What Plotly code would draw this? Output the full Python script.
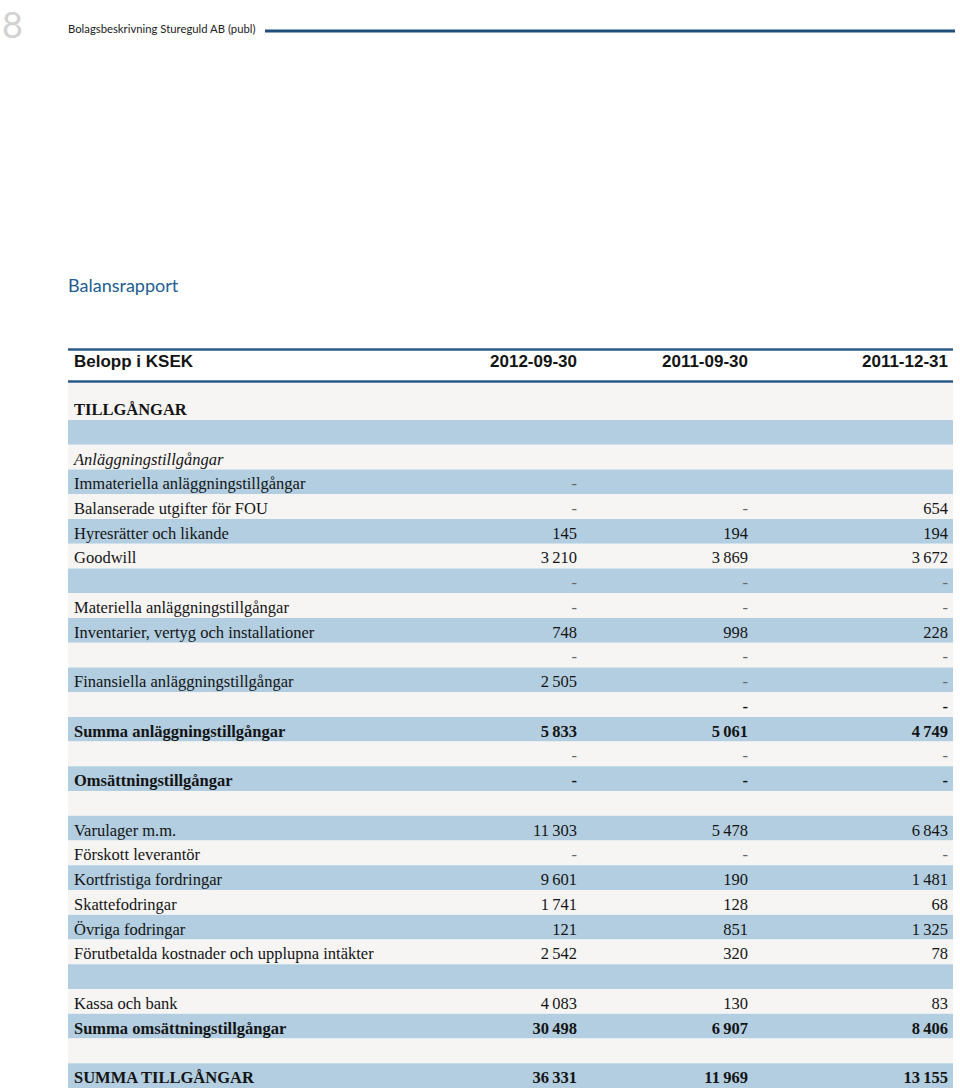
"""
Balansrapport - Stureguld AB, table recreated with Plotly bars + text.
"""
import plotly.graph_objects as go

W, H = 960, 1091

# Colour palette
BLUE_ROW = "#b2cee0"
LIGHT_ROW = "#f6f5f4"
RULE = "#2b5b88"
TITLE_BLUE = "#235d8f"
INK = "#141414"
DASH_INK = "#666666"

SERIF = "Liberation Serif, Times New Roman, serif"
SANS = "Liberation Sans, Arial, sans-serif"

header_labels = ["Belopp i KSEK", "2012-09-30", "2011-09-30", "2011-12-31"]

row_labels = [
    "TILLGÅNGAR",
    "",
    "Anläggningstillgångar",
    "Immateriella anläggningstillgångar",
    "Balanserade utgifter för FOU",
    "Hyresrätter och likande",
    "Goodwill",
    "",
    "Materiella anläggningstillgångar",
    "Inventarier, vertyg och installationer",
    "",
    "Finansiella anläggningstillgångar",
    "",
    "Summa anläggningstillgångar",
    "",
    "Omsättningstillgångar",
    "",
    "Varulager m.m.",
    "Förskott leverantör",
    "Kortfristiga fordringar",
    "Skattefodringar",
    "Övriga fodringar",
    "Förutbetalda kostnader och upplupna intäkter",
    "",
    "Kassa och bank",
    "Summa omsättningstillgångar",
    "",
    "SUMMA TILLGÅNGAR",
]

# None = empty cell, 0 = shown as "-"
val_2012_09 = [None, None, None, 0, 0, 145, 3210, 0, 0, 748, 0, 2505, None, 5833,
               0, 0, None, 11303, 0, 9601, 1741, 121, 2542, None, 4083, 30498, None, 36331]
val_2011_09 = [None, None, None, None, 0, 194, 3869, 0, 0, 998, 0, 0, 0, 5061,
               0, 0, None, 5478, 0, 190, 128, 851, 320, None, 130, 6907, None, 11969]
val_2011_12 = [None, None, None, None, 654, 194, 3672, 0, 0, 228, 0, 0, 0, 4749,
               0, 0, None, 6843, 0, 1481, 68, 1325, 78, None, 83, 8406, None, 13155]

bold_rows = {0, 12, 13, 15, 25, 27}
italic_rows = {2}

# geometry (pixels, y grows downwards)
TABLE_X0, TABLE_X1 = 68, 953
LABEL_X = 74
COL_RIGHT = [577, 748, 948]
HEADER_TOP, HEADER_BOTTOM = 349.5, 381.5
BODY_TOP = 382
FIRST_ROW_H = 38
ROW_H = 24.74


def fmt_num(v):
    if v is None:
        return ""
    if v == 0:
        return "-"
    return f"{v:,}".replace(",", "\u2009")


def styled(text, i):
    if not text:
        return ""
    if i in bold_rows:
        return f"<b>{text}</b>"
    if i in italic_rows:
        return f"<i>{text}</i>"
    return text


n = len(row_labels)
heights = [FIRST_ROW_H] + [ROW_H] * (n - 1)
bottoms = []
acc = BODY_TOP
for h in heights:
    acc += h
    bottoms.append(acc)
centers = [b - h / 2 for b, h in zip(bottoms, heights)]
text_y = [b - ROW_H / 2 + 3.3 for b in bottoms]
fills = [BLUE_ROW if i % 2 else LIGHT_ROW for i in range(n)]

fig = go.Figure()

# row bands
fig.add_trace(go.Bar(
    y=centers,
    x=[TABLE_X1 - TABLE_X0] * n,
    base=TABLE_X0,
    width=heights,
    orientation="h",
    marker=dict(color=fills, line_width=0),
    hoverinfo="skip",
    showlegend=False,
))

# row labels
fig.add_trace(go.Scatter(
    x=[LABEL_X] * n,
    y=text_y,
    mode="text",
    text=[styled(t, i) for i, t in enumerate(row_labels)],
    textposition="middle right",
    textfont=dict(family=SERIF, size=16.5, color=INK),
    hoverinfo="skip",
    showlegend=False,
))

# value columns
for col_x, col in zip(COL_RIGHT, (val_2012_09, val_2011_09, val_2011_12)):
    txt = [fmt_num(v) for v in col]
    fig.add_trace(go.Scatter(
        x=[col_x] * n,
        y=text_y,
        mode="text",
        text=[styled(t, i) for i, t in enumerate(txt)],
        textposition="middle left",
        textfont=dict(
            family=SERIF, size=16.5,
            color=[DASH_INK if t == "-" and i not in bold_rows else INK
                   for i, t in enumerate(txt)],
        ),
        hoverinfo="skip",
        showlegend=False,
    ))

# column header
fig.add_trace(go.Scatter(
    x=[LABEL_X] + COL_RIGHT,
    y=[363] * 4,
    mode="text",
    text=[f"<b>{h}</b>" for h in header_labels],
    textposition=["middle right", "middle left", "middle left", "middle left"],
    textfont=dict(family=SANS, size=17, color=INK),
    hoverinfo="skip",
    showlegend=False,
))

for y in (HEADER_TOP, HEADER_BOTTOM):
    fig.add_shape(type="line", xref="x", yref="y",
                  x0=TABLE_X0, x1=TABLE_X1, y0=y, y1=y,
                  line=dict(color=RULE, width=2.5))

# running page header
fig.add_shape(type="line", xref="x", yref="y",
              x0=265, x1=955, y0=31, y1=31,
              line=dict(color="#1f4e7a", width=3))
fig.add_annotation(text="8", xref="x", yref="y", x=0, y=24,
                   xanchor="left", yanchor="middle", showarrow=False,
                   font=dict(family="Lato", size=36, color="#d2d2d2"))
fig.add_annotation(text="Bolagsbeskrivning Stureguld AB (publ)", xref="x", yref="y",
                   x=66, y=28, xanchor="left", yanchor="middle", showarrow=False,
                   font=dict(family="Lato", size=11.3, color="#222222"))
fig.add_annotation(text="Balansrapport", xref="x", yref="y",
                   x=66, y=285, xanchor="left", yanchor="middle", showarrow=False,
                   font=dict(family="Lato", size=18, color=TITLE_BLUE))

fig.update_layout(
    width=W, height=H,
    margin=dict(l=0, r=0, t=0, b=0),
    paper_bgcolor="white",
    plot_bgcolor="white",
    hovermode=False,
    xaxis=dict(range=[0, W], visible=False, fixedrange=True),
    yaxis=dict(range=[H, 0], visible=False, fixedrange=True),
)
fig.write_html("out.html", config={"displayModeBar": False},
               post_script="document.body.style.margin='0';")
